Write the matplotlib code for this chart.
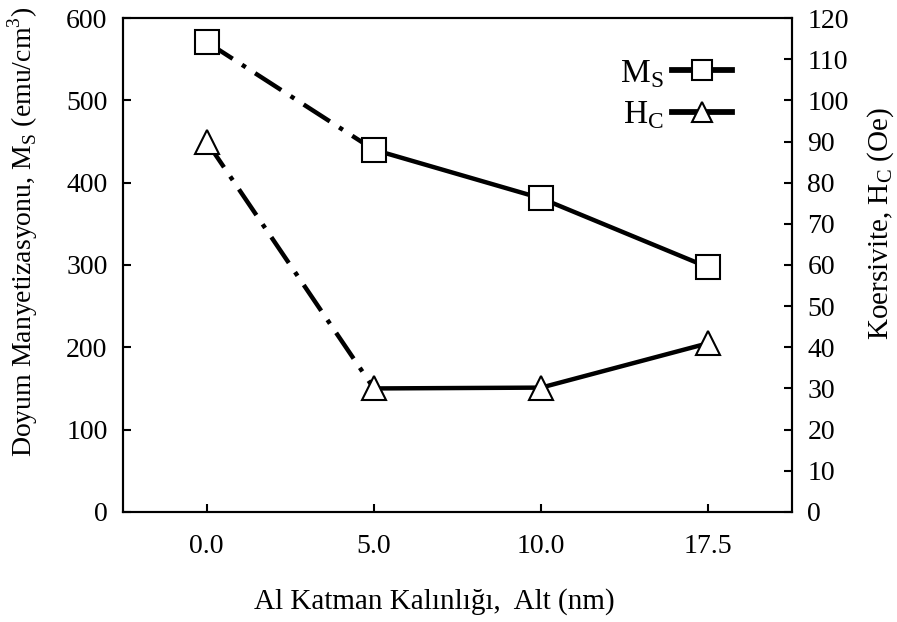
import matplotlib.pyplot as plt
from matplotlib.lines import Line2D

plt.rcParams['font.family'] = ['Liberation Serif', 'DejaVu Serif']
plt.rcParams['mathtext.fontset'] = 'custom'
plt.rcParams['mathtext.rm'] = 'Liberation Serif'

# Al layer thickness (nm), plotted as evenly spaced categories
thickness = ["0.0", "5.0", "10.0", "17.5"]
ms_values = [571, 440, 381, 297]     # saturation magnetisation (emu/cm3)
hc_values = [90, 30, 30.2, 41]       # coercivity (Oe)

x = list(range(len(thickness)))
lw = 3.2
dashdot = (7, 2.5, 1, 2.5)
fs = 20

fig, ax = plt.subplots(figsize=(8.97, 6.22), dpi=100)
fig.subplots_adjust(left=0.137, right=0.883, bottom=0.177, top=0.971)
ax2 = ax.twinx()

# Ms on left axis: dash-dot to the first Al point, solid afterwards
ax.plot(x[:2], ms_values[:2], color="black", lw=lw, dashes=dashdot, zorder=2)
ax.plot(x[1:], ms_values[1:], color="black", lw=lw, zorder=2)
ax.plot(x, ms_values, ls="none", marker="s", ms=17, mfc="white",
        mec="black", mew=1.5, zorder=3)

# Hc on right axis
ax2.plot(x[:2], hc_values[:2], color="black", lw=lw, dashes=dashdot, zorder=2)
ax2.plot(x[1:], hc_values[1:], color="black", lw=lw, zorder=2)
ax2.plot(x, hc_values, ls="none", marker="^", ms=17, mfc="white",
         mec="black", mew=1.5, zorder=3)

ax.set_xlim(-0.5, 3.5)
ax.set_ylim(0, 600)
ax2.set_ylim(0, 120)
ax.set_xticks(x)
ax.set_xticklabels(thickness)
ax.set_yticks(range(0, 601, 100))
ax2.set_yticks(range(0, 121, 10))

for a in (ax, ax2):
    a.tick_params(direction="in", length=6, width=1.5, labelsize=fs, pad=11)
    for s in a.spines.values():
        s.set_linewidth(1.5)
ax.tick_params(axis="x", pad=16)

ax.set_xlabel("Al Katman Kalınlığı,  Alt (nm)", fontsize=21)
ax.set_ylabel(r"Doyum Manyetizasyonu, M$_\mathregular{S}$ (emu/cm$^\mathregular{3}$)",
              fontsize=fs)
ax2.set_ylabel(r"Koersivite, H$_\mathregular{C}$ (Oe)", fontsize=21)
ax.xaxis.set_label_coords(0.466, -0.155)
ax.yaxis.set_label_coords(-0.124, 0.568)
ax2.yaxis.set_label_coords(1.109, 0.583)

handles = [
    Line2D([], [], color="black", lw=lw * 1.3, marker="s", ms=14, mfc="white",
           mec="black", mew=1.5),
    Line2D([], [], color="black", lw=lw * 1.3, marker="^", ms=14, mfc="white",
           mec="black", mew=1.5),
]
ax2.legend(handles, [r"M$_\mathregular{S}$", r"H$_\mathregular{C}$"],
           loc="upper right", bbox_to_anchor=(0.955, 0.98), frameon=False,
           markerfirst=False, fontsize=24, handlelength=1.8,
           handletextpad=0.25, labelspacing=0.3)

fig.savefig("out.png", dpi=100)
